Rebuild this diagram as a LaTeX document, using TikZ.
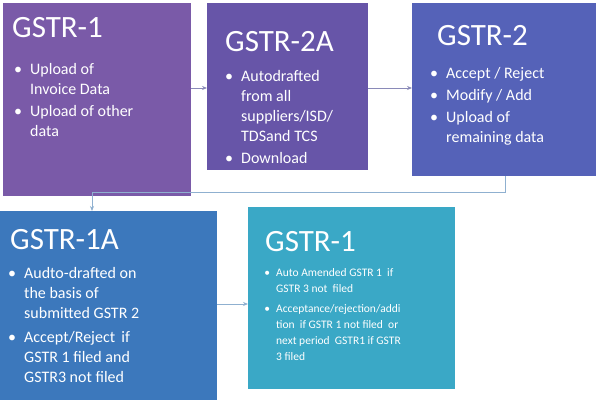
\documentclass[tikz,border=0pt]{standalone}
\usepackage{fontspec}
\setmainfont{Carlito}
\usetikzlibrary{arrows.meta}
\definecolor{c1}{HTML}{7A5AA8}
\definecolor{c2}{HTML}{6755A8}
\definecolor{c3}{HTML}{5562B8}
\definecolor{c4}{HTML}{3C78BC}
\definecolor{c5}{HTML}{3AA8C6}
\definecolor{ln}{HTML}{8A8AB8}
\definecolor{ln2}{HTML}{8FB0D0}
\begin{document}
\begin{tikzpicture}[x=1pt,y=-1pt,
  box/.style={draw=none,inner sep=0},
  ttl/.style={anchor=west,text=white,font=\fontsize{31}{32}\selectfont,inner sep=0},
  bl/.style={anchor=north west,text=white,align=left,inner sep=0,font=\fontsize{16}{20}\selectfont},
  sbl/.style={anchor=north west,text=white,align=left,inner sep=0,font=\fontsize{11.5}{16}\selectfont},
  arr/.style={draw=ln,line width=0.8pt,-{Stealth[length=5pt,width=4pt]}}]
\useasboundingbox (0,0) rectangle (600,404);
\fill[c1] (3,3) rectangle (191,196);
\fill[c2] (207,3) rectangle (368,170);
\fill[c3] (412,3) rectangle (596,176);
\fill[c4] (0,211) rectangle (217,400);
\fill[c5] (248,207) rectangle (455,389);
\coordinate (b1r) at (191,88); \coordinate (b2l) at (207,88);
\coordinate (b2r) at (368,88); \coordinate (b3l) at (412,88);
\coordinate (b3b) at (505,176); \coordinate (b4t) at (92,211);
\coordinate (b4r) at (217,304); \coordinate (b5l) at (248,304);
\node[ttl] (t1) at (12,28) {GSTR-1};
\node[bl] (l1) at (30,63) {\llap{\textbullet\hspace{8pt}}Upload of\\Invoice Data\\[2pt]\llap{\textbullet\hspace{8pt}}Upload of other\\data};
\node[ttl] (t2) at (225,42) {GSTR-2A};
\node[bl] (l2) at (241,70) {\llap{\textbullet\hspace{8pt}}Autodrafted\\from all\\suppliers/ISD/\\TDSand TCS\\[2pt]\llap{\textbullet\hspace{8pt}}Download};
\node[ttl] (t3) at (437,36) {GSTR-2};
\node[bl] (l3) at (446,67) {\llap{\textbullet\hspace{8pt}}Accept / Reject\\[2pt]\llap{\textbullet\hspace{8pt}}Modify / Add\\[2pt]\llap{\textbullet\hspace{8pt}}Upload of\\remaining data};
\node[ttl] (t4) at (10,240) {GSTR-1A};
\node[bl] (l4) at (24,267) {\llap{\textbullet\hspace{8pt}}Audto-drafted on\\the basis of\\submitted GSTR 2\\[4pt]\llap{\textbullet\hspace{8pt}}Accept/Reject\,\ if\\GSTR 1 filed and\\GSTR3 not filed};
\node[ttl] (t5) at (265,242) {GSTR-1};
\node[sbl] (l5) at (276,268) {\llap{\textbullet\hspace{6pt}}Auto Amended GSTR 1\ \ if\\GSTR 3\ not\ \ filed\\[4pt]\llap{\textbullet\hspace{6pt}}Acceptance/rejection/addi\\tion\ \ if GSTR 1 not filed\ \ or\\next period\ \ GSTR1 if GSTR\\3 filed};
\draw[arr] (b1r) -- (b2l);
\draw[arr] (b2r) -- (b3l);
\draw[arr,draw=ln2] (b3b) -- (505,192) -- (92,192) -- (b4t);
\draw[arr,draw=ln2] (b4r) -- (b5l);
\end{tikzpicture}
\end{document}
